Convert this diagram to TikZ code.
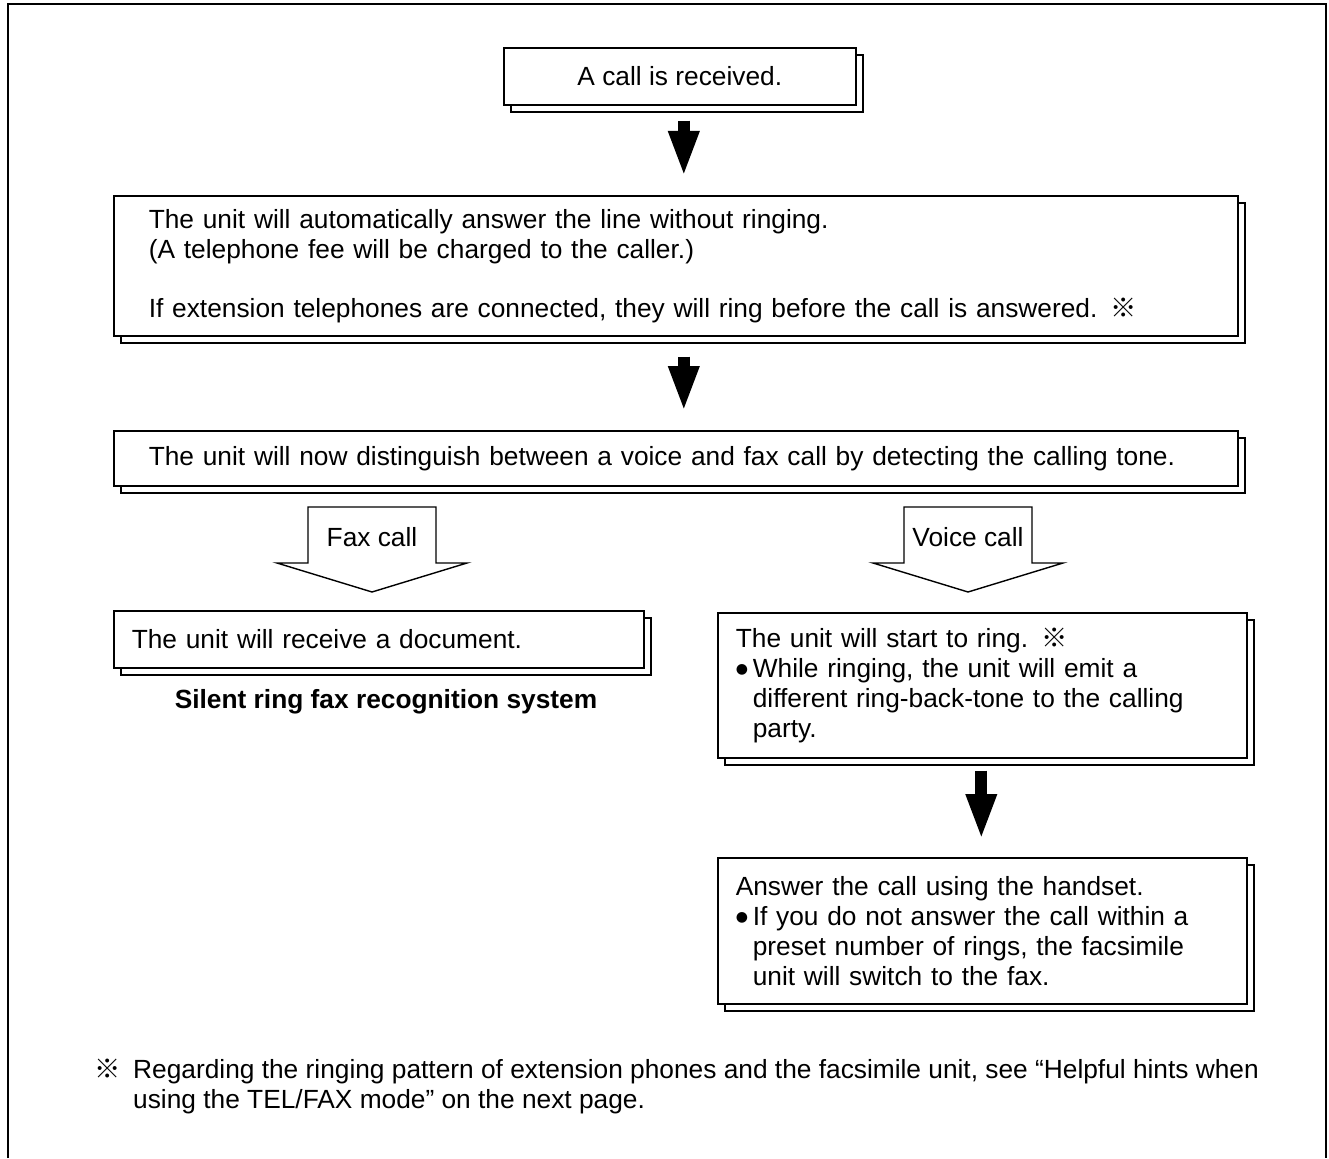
\documentclass[tikz,border=0pt]{standalone}
\usepackage{fontspec}
\setmainfont{Liberation Sans}
\newfontfamily\cjk{Noto Sans CJK JP}
\newfontfamily\symfont{DejaVu Sans}
\usetikzlibrary{arrows.meta, shadows}

\newcommand{\flowfont}{\fontsize{26.3}{30}\selectfont}
\newcommand{\refmark}{{\cjk ※}}
\newcommand{\itembullet}{\makebox[17pt][l]{\raisebox{4pt}{\symfont\fontsize{14}{30}\selectfont ●}}}
\newcommand{\contline}{\hspace*{17pt}}

\begin{document}
\begin{tikzpicture}[x=1pt, y=-1pt,
  every node/.style={font=\flowfont},
  flowbox/.style={draw, fill=white, line width=1.6pt, inner ysep=0pt, align=left,
    general shadow={shadow xshift=7pt, shadow yshift=-7pt, fill=white, draw=black, line width=1.6pt}},
  bigarrow/.style={line width=12pt, -{Triangle[length=46pt, width=28pt]}},
  hollowdown/.pic={
    \draw[line width=1.4pt, line join=miter] (0,0) -- (-95,-29) -- (-64,-29) -- (-64,-85)
      -- (64,-85) -- (64,-29) -- (95,-29) -- cycle;}
]
\useasboundingbox (0,0) rectangle (1329,1158);

%The frame (open at the bottom):
\draw[line width=2pt] (8,1158) -- (8,4) -- (1326,4) -- (1326,1158);

%The boxes:
\node[flowbox, anchor=north west, minimum width=352pt, minimum height=57pt, align=center] (call) at (503,47) {A call is received.};

\node[flowbox, anchor=north west, minimum width=1124pt, minimum height=140pt, inner xsep=35pt, text width=1054pt] (answer) at (113,195)
{The unit will automatically answer the line without ringing.\\
(A telephone fee will be charged to the caller.)\\[29pt]
If extension telephones are connected, they will ring before the call is answered. \refmark};

\node[flowbox, anchor=north west, minimum width=1124pt, minimum height=55pt, inner xsep=35pt, text width=1054pt] (detect) at (113,430)
{The unit will now distinguish between a voice and fax call by detecting the calling tone.};

\node[flowbox, anchor=north west, minimum width=530pt, minimum height=57pt, inner xsep=18pt, text width=494pt] (document) at (113,610)
{The unit will receive a document.};
\node[font=\flowfont\bfseries] (silent) at (386,702) {Silent ring fax recognition system};

\node[flowbox, anchor=north west, minimum width=529pt, minimum height=145pt, inner xsep=18pt, text width=493pt] (ring) at (717,612)
{The unit will start to ring. \refmark\\
\itembullet While ringing, the unit will emit a\\
\contline different ring-back-tone to the calling\\
\contline party.};

\node[flowbox, anchor=north west, minimum width=529pt, minimum height=146pt, inner xsep=18pt, text width=493pt] (handset) at (717,857)
{Answer the call using the handset.\\
\itembullet If you do not answer the call within a\\
\contline preset number of rings, the facsimile\\
\contline unit will switch to the fax.};

%Solid arrows between the steps:
\draw[bigarrow, shorten <=15pt, shorten >=18pt] ([xshift=4pt]call.south) -- ([xshift=8pt]answer.north);
\draw[bigarrow, shorten <=20pt, shorten >=18pt] ([xshift=8pt]answer.south) -- ([xshift=8pt]detect.north);
\draw[bigarrow, shorten <=12pt, shorten >=17pt] ([xshift=-1pt]ring.south) -- ([xshift=-1pt]handset.north);

%Open arrows for the two branches:
\pic at (372,592) {hollowdown};
\node (faxlbl) at (372,537) {Fax call};
\pic at (968,592) {hollowdown};
\node (voicelbl) at (968,537) {Voice call};

%Footnote:
\node[anchor=west, align=left, inner sep=0pt] (note) at (133,1086)
{\llap{\refmark\hspace{12pt}}Regarding the ringing pattern of extension phones and the facsimile unit, see “Helpful hints when\\
using the TEL/FAX mode” on the next page.};
\end{tikzpicture}
\end{document}
